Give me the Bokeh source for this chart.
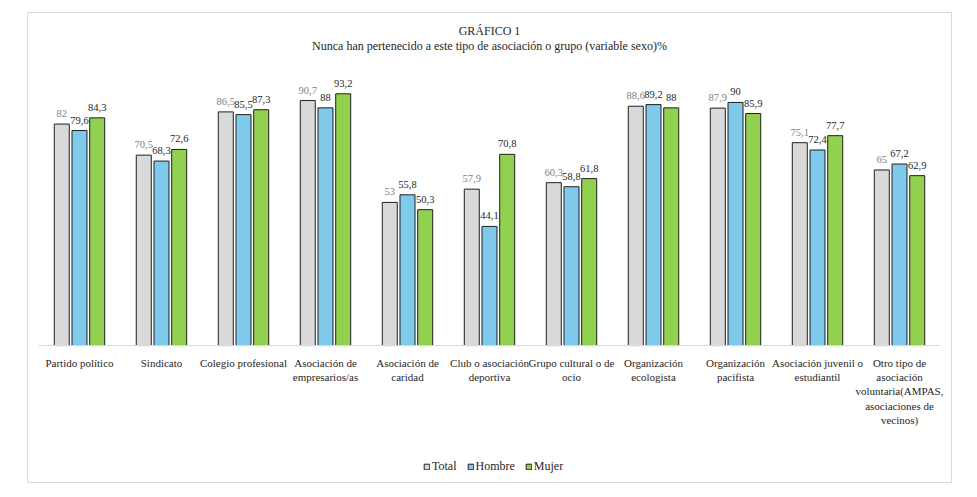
from bokeh.plotting import figure
from bokeh.models import ColumnDataSource, FactorRange, Range1d, Label, Legend, LegendItem
from bokeh.transform import dodge
from bokeh.core.properties import value
from bokeh.embed import file_html
from bokeh.resources import INLINE

categories = [
    "Partido político",
    "Sindicato",
    "Colegio profesional",
    "Asociación de\nempresarios/as",
    "Asociación de\ncaridad",
    "Club o asociación\ndeportiva",
    "Grupo cultural o de\nocio",
    "Organización\necologista",
    "Organización\npacifista",
    "Asociación juvenil o\nestudiantil",
    "Otro tipo de\nasociación\nvoluntaria(AMPAS,\nasociaciones de\nvecinos)",
]
series = ["Total", "Hombre", "Mujer"]
total = [82, 70.5, 86.5, 90.7, 53, 57.9, 60.3, 88.6, 87.9, 75.1, 65]
hombre = [79.6, 68.3, 85.5, 88, 55.8, 44.1, 58.8, 89.2, 90, 72.4, 67.2]
mujer = [84.3, 72.6, 87.3, 93.2, 50.3, 70.8, 61.8, 88, 85.9, 77.7, 62.9]
title_lines = ["GRÁFICO 1", "Nunca han pertenecido a este tipo de asociación o grupo (variable sexo)%"]

colors = ["#D9D9D9", "#7FC9EA", "#92D050"]
label_colors = ["#7f7f7f", "#262626", "#262626"]
FONT = "Liberation Serif"


def fmt(v):
    return f"{v:g}".replace(".", ",")


src = ColumnDataSource(dict(
    cat=categories,
    Total=total, Hombre=hombre, Mujer=mujer,
    Total_lbl=[fmt(v) for v in total],
    Hombre_lbl=[fmt(v) for v in hombre],
    Mujer_lbl=[fmt(v) for v in mujer],
))

p = figure(
    width=961, height=489,
    x_range=FactorRange(factors=categories, range_padding=0.134, range_padding_units="absolute"),
    y_range=Range1d(-50.7, 123.3),
    output_backend="svg", toolbar_location=None,
    min_border_left=27, min_border_right=10, min_border_top=12, min_border_bottom=7,
)
p.background_fill_color = "white"
p.border_fill_color = "white"
p.outline_line_color = "#d9d9d9"
p.outline_line_width = 1
p.xgrid.visible = False
p.ygrid.visible = False
p.yaxis.visible = False

ax = p.xaxis[0]
ax.fixed_location = 0
ax.bounds = (0, len(categories))
ax.axis_line_color = "#d9d9d9"
ax.axis_line_width = 1
ax.major_tick_line_color = None
ax.minor_tick_line_color = None
ax.major_tick_out = 0
ax.major_label_standoff = 11
ax.major_label_text_font = FONT
ax.major_label_text_font_size = "11px"
ax.major_label_text_color = "#262626"

offsets = [-0.216, 0.0, 0.216]
items = []
for s, off, col, lcol in zip(series, offsets, colors, label_colors):
    r = p.vbar(x=dodge("cat", off, range=p.x_range), top=s, width=0.183, source=src,
               fill_color=col, line_color="#1f1f1f", line_width=1)
    p.text(x=dodge("cat", off, range=p.x_range), y=s, text=s + "_lbl", source=src,
           text_align="center", text_baseline="bottom", y_offset=-7,
           text_font=value(FONT), text_font_size="10.5px", text_color=lcol)
    items.append(LegendItem(label=s, renderers=[r]))

legend = Legend(items=items, orientation="horizontal", location=(396, 8),
                glyph_width=7, glyph_height=7, label_standoff=2, spacing=10,
                label_height=14, padding=0, margin=0,
                label_text_font=FONT, label_text_font_size="12px", label_text_color="#262626",
                background_fill_alpha=0, border_line_color=None)
p.add_layout(legend)

p.add_layout(Label(x=len(categories) / 2, y=116.3, text=title_lines[0], text_align="center",
                   text_baseline="middle", text_font=FONT, text_font_size="12px", text_color="#262626"))
p.add_layout(Label(x=len(categories) / 2, y=111.0, text=title_lines[1], text_align="center",
                   text_baseline="middle", text_font=FONT, text_font_size="12px", text_color="#262626"))

open("out.html", "w").write(file_html(p, INLINE))
